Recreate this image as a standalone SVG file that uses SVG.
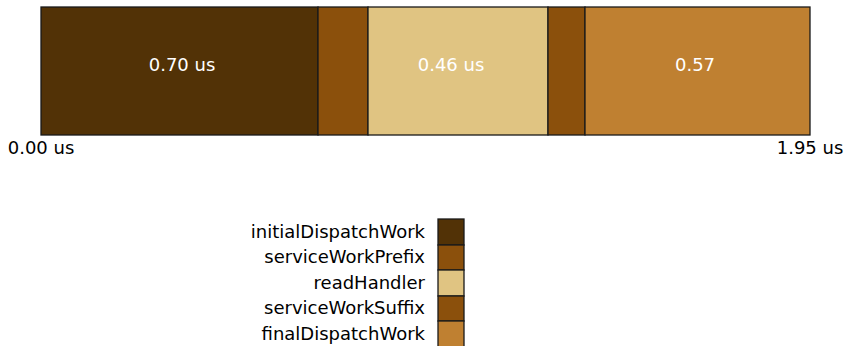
<svg xmlns="http://www.w3.org/2000/svg" width="844" height="346" viewBox="0 0 844 346">
  <style>
    text { font-family: "DejaVu Sans", sans-serif; font-size: 18px; }
    .seg { stroke: #1a1a1a; stroke-width: 1.3; }
    .val { fill: #ffffff; text-anchor: middle; }
    .axis { fill: #000000; }
    .lab { fill: #000000; text-anchor: end; }
    .c1 { fill: #523206; }
    .c2 { fill: #8B500C; }
    .c3 { fill: #E0C482; }
    .c4 { fill: #BF8031; }
  </style>
  <rect width="844" height="346" fill="#ffffff"/>
  <!-- timeline bar -->
  <g id="bar">
    <g id="initialDispatchWork"><rect class="seg c1" x="41" y="7" width="277" height="128"/><text class="val" x="182" y="71">0.70 us</text></g>
    <g id="serviceWorkPrefix"><rect class="seg c2" x="318" y="7" width="50" height="128"/></g>
    <g id="readHandler"><rect class="seg c3" x="368" y="7" width="180" height="128"/><text class="val" x="451" y="71">0.46 us</text></g>
    <g id="serviceWorkSuffix"><rect class="seg c2" x="548" y="7" width="37" height="128"/></g>
    <g id="finalDispatchWork"><rect class="seg c4" x="585" y="7" width="225" height="128"/><text class="val" x="695" y="71">0.57</text></g>
  </g>
  <g id="axis">
    <text class="axis" x="41" y="154" text-anchor="middle">0.00 us</text>
    <text class="axis" x="810" y="154" text-anchor="middle">1.95 us</text>
  </g>
  <!-- legend -->
  <g id="legend">
    <g id="legend-initialDispatchWork"><rect class="seg c1" x="438" y="219" width="26" height="26"/><text class="lab" x="425" y="238">initialDispatchWork</text></g>
    <g id="legend-serviceWorkPrefix"><rect class="seg c2" x="438" y="245" width="26" height="25"/><text class="lab" x="425" y="263">serviceWorkPrefix</text></g>
    <g id="legend-readHandler"><rect class="seg c3" x="438" y="270" width="26" height="26"/><text class="lab" x="425" y="289">readHandler</text></g>
    <g id="legend-serviceWorkSuffix"><rect class="seg c2" x="438" y="296" width="26" height="25"/><text class="lab" x="425" y="314">serviceWorkSuffix</text></g>
    <g id="legend-finalDispatchWork"><rect class="seg c4" x="438" y="321" width="26" height="26"/><text class="lab" x="425" y="340">finalDispatchWork</text></g>
  </g>
</svg>
